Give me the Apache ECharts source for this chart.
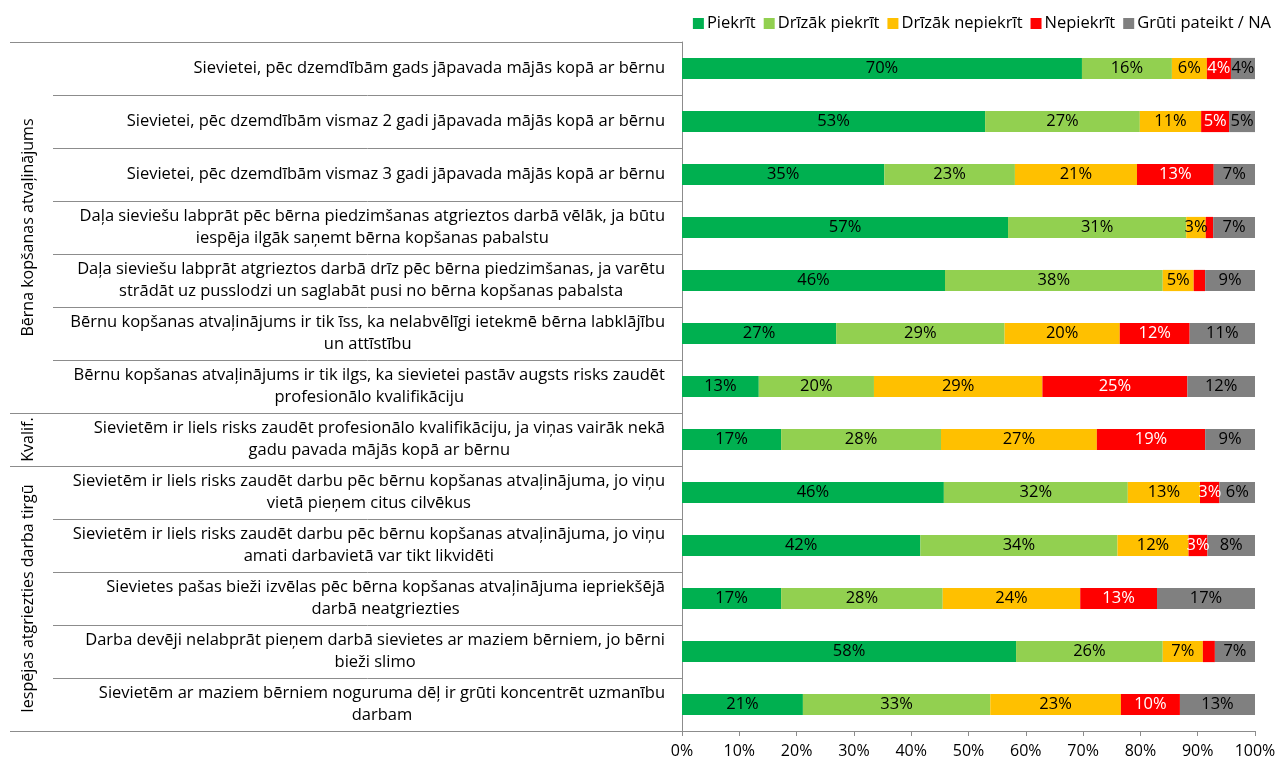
<!DOCTYPE html>
<html>
<head>
<meta charset="utf-8">
<script src="https://cdn.jsdelivr.net/npm/echarts@6/dist/echarts.min.js"></script>
<style>
  html, body { margin: 0; padding: 0; background: #ffffff; }
  #chart { width: 1281px; height: 764px; }
</style>
</head>
<body>
<div id="chart"></div>
<script>
// Statements (top to bottom)
const categories = [
  'Sievietei, pēc dzemdībām gads jāpavada mājās kopā ar bērnu',
  'Sievietei, pēc dzemdībām vismaz 2 gadi jāpavada mājās kopā ar bērnu',
  'Sievietei, pēc dzemdībām vismaz 3 gadi jāpavada mājās kopā ar bērnu',
  'Daļa sieviešu labprāt pēc bērna piedzimšanas atgrieztos darbā vēlāk, ja būtu\niespēja ilgāk saņemt bērna kopšanas pabalstu',
  'Daļa sieviešu labprāt atgrieztos darbā drīz pēc bērna piedzimšanas, ja varētu\nstrādāt uz pusslodzi un saglabāt pusi no bērna kopšanas pabalsta',
  'Bērnu kopšanas atvaļinājums ir tik īss, ka nelabvēlīgi ietekmē bērna labklājību\nun attīstību',
  'Bērnu kopšanas atvaļinājums ir tik ilgs, ka sievietei pastāv augsts risks zaudēt\nprofesionālo kvalifikāciju',
  'Sievietēm ir liels risks zaudēt profesionālo kvalifikāciju, ja viņas vairāk nekā\ngadu pavada mājās kopā ar bērnu',
  'Sievietēm ir liels risks zaudēt darbu pēc bērnu kopšanas atvaļinājuma, jo viņu\nvietā pieņem citus cilvēkus',
  'Sievietēm ir liels risks zaudēt darbu pēc bērnu kopšanas atvaļinājuma, jo viņu\namati darbavietā var tikt likvidēti',
  'Sievietes pašas bieži izvēlas pēc bērna kopšanas atvaļinājuma iepriekšējā\ndarbā neatgriezties',
  'Darba devēji nelabprāt pieņem darbā sievietes ar maziem bērniem, jo bērni\nbieži slimo',
  'Sievietēm ar maziem bērniem noguruma dēļ ir grūti koncentrēt uzmanību\ndarbam'
];

// Answer shares, % of respondents
const piekrit          = [69.8, 52.9, 35.3, 56.9, 45.9, 26.9, 13.4, 17.3, 45.7, 41.6, 17.3, 58.3, 21.1];
const drizakPiekrit    = [15.7, 27.0, 22.8, 31.1, 38.0, 29.4, 20.1, 27.9, 32.1, 34.4, 28.2, 25.6, 32.7];
const drizakNepiekrit  = [ 6.1, 10.7, 21.3,  3.4,  5.4, 20.1, 29.4, 27.2, 12.6, 12.4, 24.0,  7.0, 22.8];
const nepiekrit        = [ 4.2,  4.9, 13.4,  1.3,  2.0, 12.2, 25.3, 18.9,  3.4,  3.3, 13.4,  2.1, 10.3];
const grutiPateikt     = [ 4.2,  4.5,  7.2,  7.3,  8.7, 11.4, 11.8,  8.7,  6.2,  8.3, 17.1,  7.0, 13.1];

const seriesNames = ['Piekrīt', 'Drīzāk piekrīt', 'Drīzāk nepiekrīt', 'Nepiekrīt', 'Grūti pateikt / NA'];
const xTicks = [0, 10, 20, 30, 40, 50, 60, 70, 80, 90, 100];

// Statement groups: [title, first row, last row]
const groupTitles = ['Bērna kopšanas atvaļinājums', 'Kvalif.', 'Iespējas atgriezties darba tirgū'];
const groupFirst  = [0, 7, 8];
const groupLast   = [6, 7, 12];

const FONT = "'Open Sans', 'Liberation Sans', Arial, sans-serif";
const colors = ['#00B050', '#92D050', '#FFC000', '#FF0000', '#808080'];
const labelColors = ['#000000', '#000000', '#000000', '#ffffff', '#000000'];
const lineGrey = '#8c8c8c';

const chart = echarts.init(document.getElementById('chart'), null, { renderer: 'canvas' });

const seriesData = [piekrit, drizakPiekrit, drizakNepiekrit, nepiekrit, grutiPateikt];

const series = seriesData.map((vals, i) => ({
  name: seriesNames[i],
  type: 'bar',
  stack: 'total',
  barWidth: '40%',
  data: vals,
  itemStyle: { color: colors[i] },
  label: {
    show: true,
    position: 'inside',
    color: labelColors[i],
    fontFamily: FONT,
    fontSize: 16.5,
    formatter: p => (p.value < 3 ? '' : Math.round(p.value) + '%')
  },
  emphasis: { disabled: true }
}));

chart.setOption({
  animation: false,
  backgroundColor: '#ffffff',
  textStyle: { fontFamily: FONT },
  legend: {
    right: 5,
    top: 10,
    icon: 'rect',
    itemWidth: 11,
    itemHeight: 11,
    itemGap: 8,
    textStyle: { fontFamily: FONT, fontSize: 16.5, color: '#000000', padding: [0, 0, 0, -2] },
    data: seriesNames
  },
  grid: { left: 682, right: 26, top: 42, bottom: 33, containLabel: false },
  xAxis: {
    type: 'value',
    min: xTicks[0],
    max: xTicks[xTicks.length - 1],
    interval: xTicks[1] - xTicks[0],
    axisLine: { show: true, lineStyle: { color: lineGrey } },
    axisTick: { show: true, length: 5, lineStyle: { color: lineGrey } },
    splitLine: { show: false },
    axisLabel: { formatter: '{value}%', fontFamily: FONT, fontSize: 16, color: '#000000', margin: 12 }
  },
  yAxis: {
    type: 'category',
    inverse: true,
    data: categories,
    axisLine: { show: true, lineStyle: { color: lineGrey } },
    axisTick: { show: true, interval: 0, length: 629, lineStyle: { color: lineGrey } },
    axisLabel: {
      interval: 0,
      margin: 17,
      align: 'right',
      formatter: v => v.split('\n').map(s => '{c|' + s + '}').join('\n'),
      rich: {
        c: { align: 'center', fontFamily: FONT, fontSize: 16.5, lineHeight: 22, color: '#000000' }
      }
    }
  },
  series: series
});

// Group separators and rotated group titles, positioned through the category axis
function bandCenter(i) { return chart.convertToPixel({ yAxisIndex: 0 }, categories[i]); }
const c0 = bandCenter(0);
const band = bandCenter(1) - c0;
function boundary(k) { return c0 + (k - 0.5) * band; }
const axisX = chart.convertToPixel({ xAxisIndex: 0 }, 0);

const graphics = [];
const sepRows = [0];
groupLast.forEach(l => sepRows.push(l + 1));
sepRows.forEach(k => {
  const y = Math.round(boundary(k)) + 0.5;
  graphics.push({
    type: 'line',
    shape: { x1: 10, y1: y, x2: axisX, y2: y },
    style: { stroke: lineGrey, lineWidth: 1 },
    silent: true
  });
});
groupTitles.forEach((t, g) => {
  const yMid = (boundary(groupFirst[g]) + boundary(groupLast[g] + 1)) / 2;
  graphics.push({
    type: 'text',
    x: 28,
    y: yMid,
    rotation: Math.PI / 2,
    style: {
      text: t,
      fill: '#000000',
      font: '16px ' + FONT,
      textAlign: 'center',
      textVerticalAlign: 'middle'
    },
    silent: true
  });
});
chart.setOption({ graphic: graphics });
</script>
</body>
</html>
